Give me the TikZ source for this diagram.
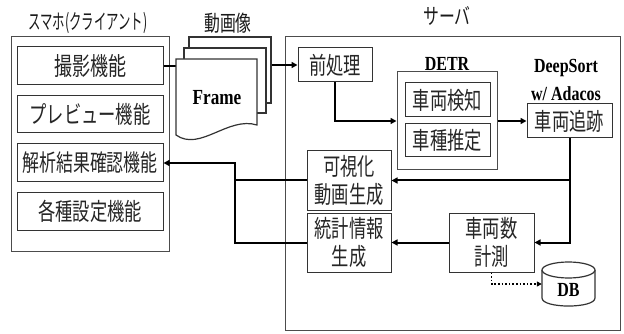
\documentclass[tikz,border=0pt]{standalone}
\usepackage{fontspec}
\setmainfont{Noto Sans CJK JP}[FakeStretch=0.72]
\newfontfamily\ttlf{Noto Sans CJK JP}[FakeStretch=0.59]
\newfontfamily\latf{Liberation Serif}[FakeStretch=0.8]
\usetikzlibrary{arrows.meta}
\begin{document}
\begin{tikzpicture}[x=1pt,y=-1pt,
  box/.style={draw=black!80, line width=1pt, inner sep=0pt, fill=white,
    font=\fontsize{24}{28}\selectfont, text=black!85, align=center},
  outer/.style={draw=black!70, line width=1pt, inner sep=0pt},
  sheet/.style={draw=black!80, line width=1.2pt, fill=white, inner sep=0pt},
  lat/.style={font=\latf\bfseries\fontsize{20}{24}\selectfont, text=black, inner sep=0pt},
  ttl/.style={font=\fontsize{22}{26}\selectfont, text=black!90, inner sep=0pt},
  conn/.style={line width=2pt, draw=black},
  arr/.style={conn, -{Triangle[length=6pt,width=6pt]}},
  dotarr/.style={line width=1.6pt, dotted, -{Triangle[length=5pt,width=5pt]}}
]
\useasboundingbox (0,0) rectangle (624,334);

% titles
\node[ttl, font=\ttlf\fontsize{21}{26}\selectfont] (tclient) at (88,23) {スマホ(クライアント)};
\node[ttl] (tvideo) at (228,23) {動画像};
\node[ttl] (tserver) at (447,16) {サーバ};

% client
\node[outer, minimum width=158pt, minimum height=214pt] (client) at (90,144) {};
\node[box, minimum width=146pt, minimum height=38pt] (shoot) at (90,66) {\fontsize{25}{28}\selectfont 撮影機能};
\node[box, minimum width=146pt, minimum height=37pt] (prev) at (90,114.5) {プレビュー機能};
\node[box, minimum width=146pt, minimum height=38pt] (ana) at (90,163) {\fontsize{23.5}{28}\selectfont 解析結果確認機能};
\node[box, minimum width=146pt, minimum height=38pt] (conf) at (90,211) {各種設定機能};

% server
\node[outer, minimum width=335pt, minimum height=293pt] (server) at (452.5,183.5) {};
\node[box, minimum width=74pt, minimum height=34pt] (pre) at (335,65) {前処理};
\node[outer, minimum width=100pt, minimum height=98pt] (detr) at (447,121) {};
\node[lat, anchor=base] (detrl) at (447,71) {DETR};
\node[box, minimum width=85pt, minimum height=34pt] (det) at (447.5,100) {車両検知};
\node[box, minimum width=85pt, minimum height=33pt] (cls) at (447.5,140.5) {車種推定};
\node[lat, anchor=base] (ds1) at (566,73) {DeepSort};
\node[lat, anchor=base] (ds2) at (566,101) {w/ Adacos};
\node[box, minimum width=85pt, minimum height=34pt] (track) at (569.5,121) {車両追跡};
\node[box, minimum width=84pt, minimum height=59pt] (vis) at (349,180.5) {可視化\\動画生成};
\node[box, minimum width=84pt, minimum height=59pt] (stat) at (349,242.5) {統計情報\\生成};
\node[box, minimum width=85pt, minimum height=59pt] (count) at (491.5,242.5) {車両数\\計測};

% DB cylinder
\node[minimum width=53pt, minimum height=44pt, inner sep=0pt] (db) at (568.5,284) {};
\draw[draw=black!80, line width=1.2pt, fill=white]
  (542,270) -- (542,298) .. controls (542,308.7) and (595,308.7) .. (595,298) -- (595,270);
\draw[draw=black!80, line width=1.2pt, fill=white] (568.5,270) ellipse [x radius=26.5, y radius=8];
\node[lat] (dbl) at (568.5,290) {DB};

% frame stack
\draw[conn] (shoot.east) -- (176,66);
\node[sheet, minimum width=82pt, minimum height=66pt] (back) at (230,70) {};
\node[sheet, minimum width=82pt, minimum height=65pt] (mid) at (225,80.5) {};
\draw[sheet] (176,135) -- (176,59) -- (257,59) -- (257,125)
  .. controls (228,116) and (200,152) .. cycle;
\node[lat, font=\latf\bfseries\fontsize{21.5}{26}\selectfont] (frame) at (217,98) {Frame};

% connectors
\draw[arr] (back.east |- pre.west) -- (pre.west);
\draw[arr] (pre.south) |- (detr.west);
\draw[arr] (detr.east) -- (track.west);
\draw[arr] (track.south) |- (vis.east);
\draw[arr] (track.south) |- (count.east);
\draw[arr] (count.west) -- (stat.east);
\coordinate (j) at (235,0);
\draw[conn] (vis.west) -- (j |- vis.west);
\draw[arr] (stat.west) -- (j |- stat.west) -- (j |- ana.east) -- (ana.east);
\draw[dotarr] (count.south) |- (db.west);
\end{tikzpicture}
\end{document}
